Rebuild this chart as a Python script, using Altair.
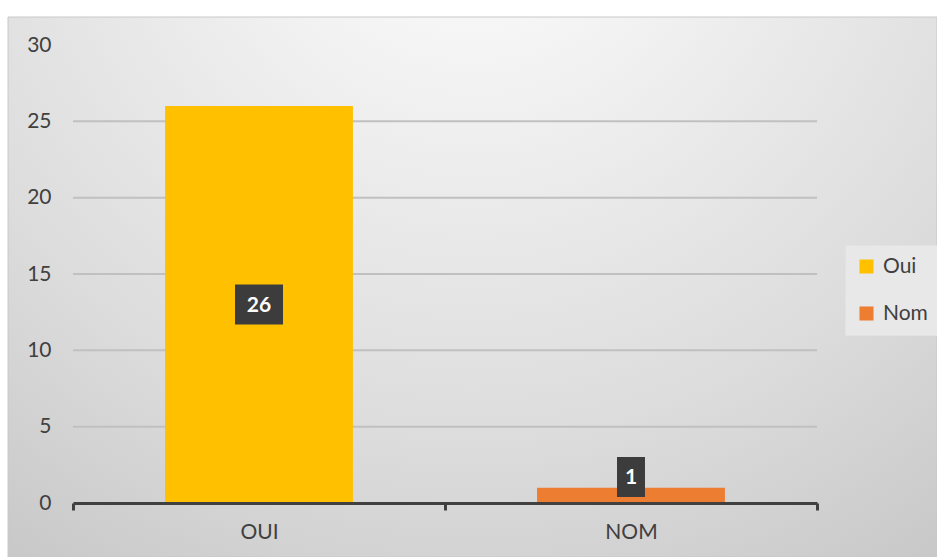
import altair as alt
import pandas as pd

categories = ["OUI", "NOM"]
series = ["Oui", "Nom"]
values = [26, 1]
colors = ["#FFC000", "#ED7D31"]
y_ticks = [0, 5, 10, 15, 20, 25, 30]
grid_vals = [5, 10, 15, 20, 25]

df = pd.DataFrame({"Category": categories, "Series": series, "value": values})
grid_df = pd.DataFrame({"g": grid_vals})

W, H = 744, 458
PAD = {"left": 73, "top": 45, "right": 937 - 73 - W, "bottom": 557 - 45 - H}
FONT = "Lato"
TXT = "#404040"

xscale = alt.Scale(domain=categories, paddingInner=0, paddingOuter=0)
yscale = alt.Scale(domain=[0, 30], nice=False)

bg = alt.Chart(pd.DataFrame({"a": [0]})).mark_rect(
    color={
        "gradient": "radial",
        "x1": 0.5, "y1": 0.05, "r1": 0,
        "x2": 0.5, "y2": 0.05, "r2": 0.95,
        "stops": [
            {"offset": 0, "color": "#ffffff"},
            {"offset": 0.3, "color": "#efefef"},
            {"offset": 0.65, "color": "#dcdcdc"},
            {"offset": 1, "color": "#c4c4c4"},
        ],
    },
    stroke="#c8c8c8", strokeWidth=1, clip=False,
).encode(
    x=alt.value(8 - 73), x2=alt.value(937 - 73),
    y=alt.value(17 - 45), y2=alt.value(557 - 45),
)

yaxis = alt.Axis(values=y_ticks, labelFont=FONT, labelFontSize=21, labelColor=TXT,
                 labelPadding=22, domain=False, ticks=False, grid=False, zindex=1)

grid = alt.Chart(grid_df).mark_rule(color="#c0c0c0", strokeWidth=2).encode(
    y=alt.Y("g:Q", scale=yscale, title=None, axis=yaxis),
)

base = alt.Chart(df)

bars = base.mark_bar(width=alt.RelativeBandSize(0.505)).encode(
    x=alt.X("Category:N", scale=xscale, sort=categories, title=None,
            axis=alt.Axis(labelAngle=0, labelFont=FONT, labelFontSize=21, labelColor=TXT,
                          labelPadding=11, domainColor=TXT, domainWidth=3,
                          tickColor=TXT, tickWidth=3, tickSize=7, tickBand="extent",
                          grid=False, zindex=1)),
    y=alt.Y("value:Q", scale=yscale, title=None, axis=yaxis),
    color=alt.Color("Series:N", scale=alt.Scale(domain=series, range=colors), sort=series,
                    legend=alt.Legend(title=None, orient="none", legendX=772, legendY=200,
                                      symbolType="square", symbolSize=196, symbolStrokeWidth=0,
                                      labelFont=FONT, labelFontSize=21, labelColor=TXT,
                                      labelOffset=6, rowPadding=25, padding=11,
                                      fillColor="#e8e8e8", strokeColor="#e2e2e2", zindex=1)),
)

wide = "M-1,-0.833H1V0.833H-1Z"
narrow = "M-0.583,-0.833H0.583V0.833H-0.583Z"

lab = base.transform_calculate(
    label_y="max(datum.value / 2, 1.7)",
    txt="format(datum.value, 'd')",
)

boxes = lab.mark_point(filled=True, opacity=1, color="#3c3c3c", size=2304).encode(
    x=alt.X("Category:N", scale=xscale, sort=categories),
    y=alt.Y("label_y:Q", scale=yscale),
    shape=alt.Shape("Category:N", scale=alt.Scale(domain=categories, range=[wide, narrow]), legend=None),
)

texts = lab.mark_text(color="white", font=FONT, fontSize=21, fontWeight="bold",
                      baseline="middle", align="center", dy=1).encode(
    x=alt.X("Category:N", scale=xscale, sort=categories),
    y=alt.Y("label_y:Q", scale=yscale),
    text="txt:N",
)

chart = alt.layer(bg, grid, bars, boxes, texts).properties(
    width=W, height=H,
    autosize=alt.AutoSizeParams(type="none"),
    padding=PAD,
    background="white",
).configure_view(stroke=None)

chart.save("out.html", embed_options={"renderer": "svg", "actions": False})
